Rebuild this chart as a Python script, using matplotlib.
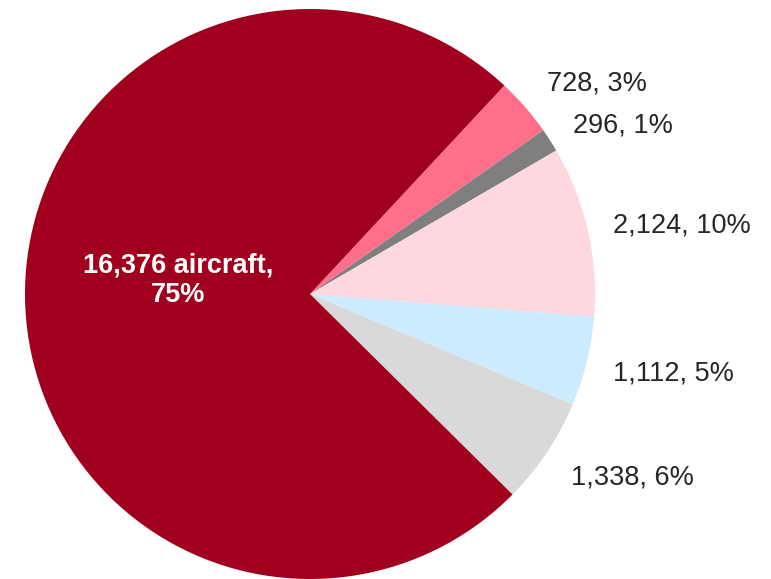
import matplotlib
matplotlib.use("Agg")
import matplotlib.pyplot as plt

# Aircraft counts per slice, clockwise from the pink slice
counts = [728, 296, 2124, 1112, 1338, 16376]
percents = ["3%", "1%", "10%", "5%", "6%", "75%"]
colors = ["#FF6F8A", "#7F7F7F", "#FFD7DF", "#CCEBFF", "#D9D9D9", "#A0001E"]

# label anchor points in image pixels (x left edge, y centre) for the outside labels
label_pos = [(547, 83), (573, 125), (613, 226), (613, 373), (571, 477)]

W, H = 771, 579
plt.rcParams["font.family"] = ["Liberation Sans", "DejaVu Sans"]

fig = plt.figure(figsize=(W / 100, H / 100), dpi=100)
ax = fig.add_axes([0, 0, 1, 1])

ax.pie(counts, colors=colors, startangle=47, counterclock=False,
       center=(310, H - 294), radius=285, frame=True,
       wedgeprops=dict(linewidth=0))
ax.set_xlim(0, W)
ax.set_ylim(0, H)
ax.axis("off")

for (x, y), n, p in zip(label_pos, counts[:-1], percents[:-1]):
    ax.text(x, H - y, f"{n:,}, {p}", ha="left", va="center",
            fontsize=19.5, color="#262626")

ax.text(178, H - 280, f"{counts[-1]:,} aircraft,\n{percents[-1]}", ha="center",
        va="center", fontsize=19.5, fontweight="bold", color="white",
        linespacing=1.18)

fig.savefig("out.png", dpi=100)
